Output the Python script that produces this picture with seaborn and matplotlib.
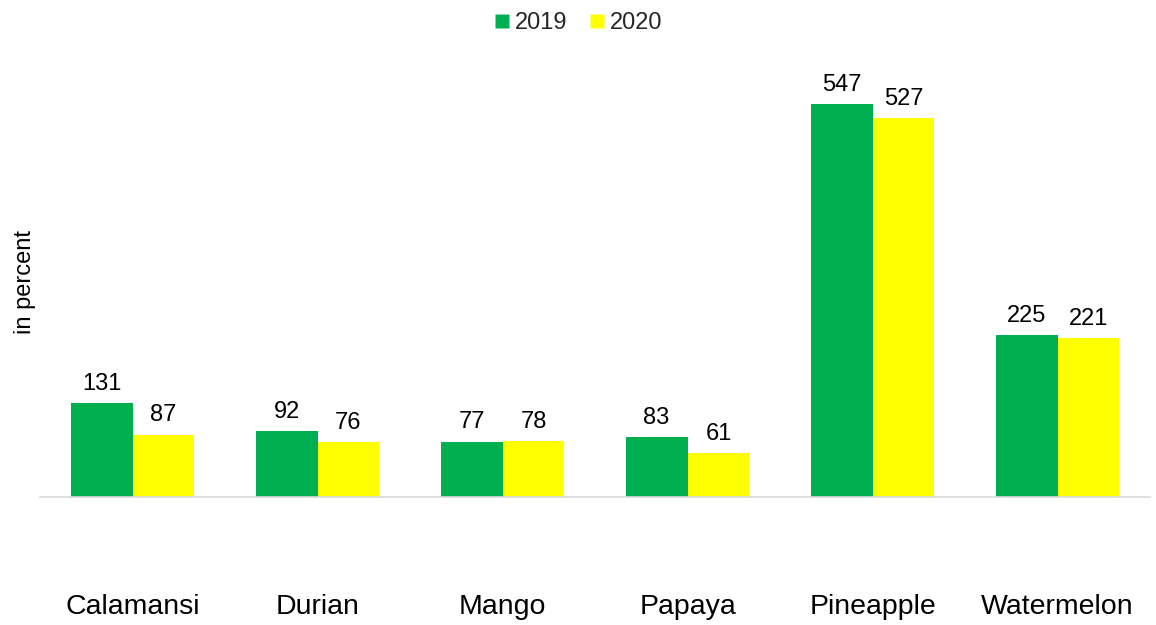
import matplotlib
matplotlib.use("Agg")
import matplotlib.pyplot as plt
from matplotlib.lines import Line2D
import seaborn as sns
import pandas as pd

categories = ["Calamansi", "Durian", "Mango", "Papaya", "Pineapple", "Watermelon"]
years = ["2019", "2020"]
values_2019 = [131, 92, 77, 83, 547, 225]
values_2020 = [87, 76, 78, 61, 527, 221]
colors = {"2019": "#00B050", "2020": "#FFFF00"}

df = pd.DataFrame({
    "fruit": categories * 2,
    "year": ["2019"] * len(categories) + ["2020"] * len(categories),
    "value": values_2019 + values_2020,
})

sns.set_theme(style="white")
plt.rcParams["font.family"] = ["Liberation Sans", "DejaVu Sans"]

W, H = 1156, 625
fig = plt.figure(figsize=(W / 100, H / 100), dpi=100)
left, right, top, bottom = 40, 1150, 66, 497
ax = fig.add_axes([left / W, 1 - bottom / H, (right - left) / W, (bottom - top) / H])

sns.barplot(data=df, x="fruit", y="value", hue="year", order=categories,
            hue_order=years, palette=colors, width=0.67, saturation=1,
            edgecolor="none", linewidth=0, ax=ax, legend=False)

ax.set_xlim(-0.5, 5.5)
ax.set_ylim(0, 600)
for c in ax.containers:
    ax.bar_label(c, labels=[f"{v:.0f}" for v in c.datavalues], padding=6,
                 fontsize=17, color="#000000")

for s in ["top", "right", "left"]:
    ax.spines[s].set_visible(False)
ax.spines["bottom"].set_color("#D9D9D9")
ax.spines["bottom"].set_linewidth(1.2)
ax.set_yticks([])
ax.tick_params(axis="x", length=0, pad=70, labelsize=20.5, labelcolor="#000000")
ax.set_xlabel("")
ax.set_ylabel("in percent", fontsize=17, color="#000000")
ax.yaxis.set_label_coords(-0.004, 0.5)

handles = [Line2D([0], [0], marker="s", linestyle="none", markersize=9.5,
                  markerfacecolor=colors[y], markeredgecolor="none") for y in years]
fig.legend(handles, years, loc="center", bbox_to_anchor=(0.5, 1 - 23 / H),
           ncol=2, frameon=False, fontsize=17, handlelength=0.7,
           handletextpad=0.2, columnspacing=0.9)

fig.savefig("out.png", dpi=100)
